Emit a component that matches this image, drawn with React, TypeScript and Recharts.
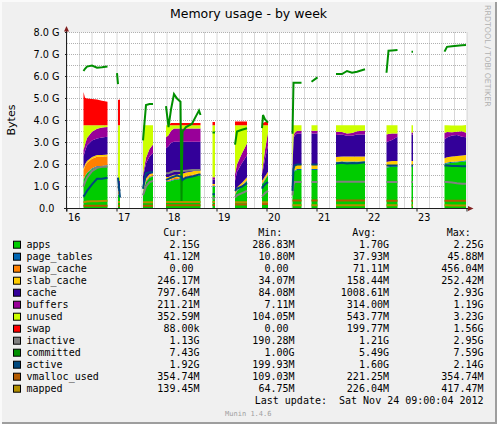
import React from 'react'
import { ComposedChart, Area, Line, XAxis, YAxis, CartesianGrid } from 'recharts'

const W = 497
const H = 424
const PLOT = { left: 67, top: 32.5, width: 400, height: 176 }
const PLOT_BOTTOM = PLOT.top + PLOT.height
const AXIS = '#1f1f1f'
const ARROW = '#801f1f'
const SANS = 'DejaVu Sans'
const MONO = 'DejaVu Sans Mono'

const _ = null

// time in days (November); rows where every value is null are the gaps in the data
const t = [
  16.33, 16.36, 16.4, 16.5, 16.6, 16.7, 16.81, 16.9,
  17.0, 17.02, 17.06, 17.3,
  17.52, 17.58, 17.65, 17.72, 17.85,
  17.98, 18.03, 18.08, 18.14, 18.2, 18.27, 18.29, 18.31, 18.38, 18.5, 18.58, 18.64, 18.67, 18.8,
  18.91, 18.96, 19.2,
  19.36, 19.4, 19.5, 19.6, 19.75,
  19.9, 19.92, 19.96, 20.02, 20.3,
  20.51, 20.53, 20.55, 20.6, 20.69, 20.8,
  20.89, 21.01, 21.2,
  21.38, 21.5, 21.6, 21.7, 21.8, 21.96, 22.2,
  22.39, 22.43, 22.5, 22.61, 22.75,
  22.89, 22.92, 23.2,
  23.55, 23.6, 23.7, 23.8, 23.9, 23.98,
]

// stacked areas, GB
const apps = [
  1.3, 1.45, 1.6, 1.8, 1.9, 1.9, 1.95, _,
  _, 0.6, 0.7, _,
  0.7, 1.2, 1.4, 1.45, _,
  1.2, 1.2, 1.25, 1.3, 1.3, 1.35, 1.35, 1.35, 1.4, 1.45, 1.5, 1.5, 1.5, _,
  1.0, 1.0, _,
  0.6, 0.8, 1.0, 1.25, _,
  1.1, 1.15, 1.3, 1.5, _,
  1.0, 1.6, 1.7, 1.75, 1.75, _,
  1.75, 1.75, _,
  2.08, 2.1, 2.1, 2.1, 2.1, 2.1, _,
  1.85, 1.88, 1.9, 1.9, _,
  1.9, 1.9, _,
  2.0, 2.05, 2.08, 2.1, 2.12, 2.15,
]
const pageTables = [
  0.03, 0.03, 0.03, 0.03, 0.03, 0.03, 0.03, _,
  _, 0.03, 0.03, _,
  0.03, 0.03, 0.03, 0.03, _,
  0.035, 0.035, 0.035, 0.035, 0.035, 0.035, 0.035, 0.035, 0.035, 0.035, 0.035, 0.035, 0.035, _,
  0.035, 0.035, _,
  0.035, 0.035, 0.035, 0.035, _,
  0.035, 0.035, 0.035, 0.035, _,
  0.04, 0.04, 0.04, 0.04, 0.04, _,
  0.04, 0.04, _,
  0.04, 0.04, 0.04, 0.04, 0.04, 0.04, _,
  0.04, 0.04, 0.04, 0.04, _,
  0.04, 0.04, _,
  0.041, 0.041, 0.041, 0.041, 0.041, 0.041,
]
const swapCache = [
  0.4, 0.45, 0.45, 0.43, 0.42, 0.42, 0.4, _,
  _, 0.1, 0.1, _,
  0.05, 0.05, 0.05, 0.05, _,
  0.05, 0.05, 0.05, 0.05, 0.05, 0.05, 0.05, 0.05, 0.05, 0.05, 0.05, 0.05, 0.05, _,
  0.03, 0.03, _,
  0.03, 0.03, 0.03, 0.03, _,
  0.03, 0.03, 0.03, 0.03, _,
  0, 0, 0, 0, 0, _,
  0, 0, _,
  0, 0, 0, 0, 0, 0, _,
  0, 0, 0, 0, _,
  0, 0, _,
  0, 0, 0, 0, 0, 0,
]
const slabCache = [
  0.08, 0.08, 0.08, 0.08, 0.08, 0.08, 0.08, _,
  _, 0.05, 0.05, _,
  0.08, 0.08, 0.08, 0.08, _,
  0.15, 0.15, 0.15, 0.15, 0.15, 0.15, 0.15, 0.15, 0.15, 0.15, 0.15, 0.15, 0.15, _,
  0.05, 0.05, _,
  0.1, 0.1, 0.1, 0.1, _,
  0.1, 0.1, 0.1, 0.1, _,
  0.2, 0.22, 0.22, 0.22, 0.22, _,
  0.22, 0.22, _,
  0.22, 0.22, 0.22, 0.22, 0.22, 0.22, _,
  0.22, 0.22, 0.22, 0.22, _,
  0.22, 0.22, _,
  0.24, 0.24, 0.245, 0.245, 0.246, 0.246,
]
const cache = [
  0.55, 0.6, 0.7, 0.75, 0.75, 0.8, 0.8, _,
  _, 0.3, 0.3, _,
  0.6, 0.7, 0.8, 0.9, _,
  1.3, 1.4, 1.5, 1.5, 1.5, 1.45, 1.45, 1.45, 1.4, 1.35, 1.3, 1.3, 1.3, _,
  0.2, 0.2, _,
  0.5, 0.7, 0.9, 1.0, _,
  0.3, 0.45, 0.8, 1.2, _,
  0.5, 1.3, 1.35, 1.4, 1.4, _,
  1.4, 1.4, _,
  1.0, 1.0, 0.95, 0.95, 1.0, 1.0, _,
  0.9, 0.92, 0.95, 1.1, _,
  1.2, 1.2, _,
  0.85, 0.9, 0.95, 0.95, 0.85, 0.8,
]
const buffers = [
  0.3, 0.3, 0.35, 0.4, 0.45, 0.45, 0.45, _,
  _, 0.1, 0.1, _,
  0.1, 0.25, 0.35, 0.4, _,
  0.5, 0.5, 0.55, 0.6, 0.6, 0.6, 0.6, 0.6, 0.6, 0.6, 0.6, 0.6, 0.6, _,
  0.1, 0.1, _,
  0.3, 0.35, 0.45, 0.55, _,
  0.1, 0.2, 0.4, 0.6, _,
  0.1, 0.12, 0.12, 0.12, 0.12, _,
  0.12, 0.12, _,
  0.15, 0.12, 0.1, 0.12, 0.15, 0.18, _,
  0.35, 0.33, 0.3, 0.15, _,
  0.1, 0.1, _,
  0.3, 0.25, 0.15, 0.15, 0.25, 0.21,
]
const unused = [
  1.12, 0.87, 0.57, 0.29, 0.15, 0.1, 0.07, _,
  _, 2.6, 2.5, _,
  2.22, 1.47, 1.07, 0.87, _,
  0.55, 0.45, 0.25, 0.15, 0.15, 0.15, 0.15, 0.15, 0.15, 0.15, 0.15, 0.15, 0.15, _,
  2.37, 2.37, _,
  2.22, 1.77, 1.27, 0.82, _,
  2.12, 1.82, 1.12, 0.32, _,
  1.94, 0.5, 0.35, 0.25, 0.25, _,
  0.25, 0.25, _,
  0.29, 0.3, 0.37, 0.35, 0.27, 0.24, _,
  0.42, 0.39, 0.37, 0.37, _,
  0.32, 0.32, _,
  0.35, 0.3, 0.31, 0.29, 0.27, 0.353,
]
const swap = [
  1.52, 1.25, 1.22, 1.2, 1.17, 1.12, 1.07, _,
  _, 1.15, 1.18, _,
  0, 0, 0, 0, _,
  0, 0, 0.1, 0.1, 0.1, 0.1, 0.1, 0.1, 0.1, 0.1, 0.1, 0.1, 0.1, _,
  0.15, 0.15, _,
  0.17, 0.17, 0.17, 0.17, _,
  0.05, 0.1, 0.15, 0.15, _,
  0, 0, 0, 0, 0, _,
  0, 0, _,
  0, 0, 0, 0, 0, 0, _,
  0, 0, 0, 0, _,
  0, 0, _,
  0, 0, 0, 0, 0, 0,
]

// lines, GB
const inactive = [
  1.0, 1.2, 1.4, 1.7, 1.85, 1.9, 1.9, _,
  _, 1.0, 0.8, _,
  0.6, 1.0, 1.2, 1.25, _,
  1.6, 1.6, 1.65, 1.7, 1.7, 1.7, 1.7, 1.7, 1.72, 1.75, 1.75, 1.75, 1.75, _,
  0.45, 0.45, _,
  0.5, 0.6, 0.7, 0.8, _,
  0.55, 0.6, 0.7, 0.8, _,
  0.6, 1.1, 1.2, 1.2, 1.2, _,
  1.2, 1.2, _,
  1.22, 1.22, 1.22, 1.22, 1.22, 1.22, _,
  1.2, 1.2, 1.2, 1.2, _,
  1.2, 1.2, _,
  1.2, 1.2, 1.18, 1.15, 1.13, 1.13,
]
const committed = [
  6.25, 6.35, 6.45, 6.5, 6.4, 6.42, 6.45, _,
  6.15, 5.65, _, _,
  3.1, 4.7, 4.75, 4.75, _,
  4.65, 3.7, 4.5, 5.2, 5.0, 4.85, 0.3, 3.5, 3.7, 3.85, 4.2, 4.45, 4.25, _,
  3.45, 3.45, _,
  2.9, 3.5, 3.58, 3.65, _,
  3.65, 4.25, 4.05, 3.9, _,
  3.4, 5.72, 5.72, 5.72, 5.72, _,
  5.76, 5.96, _,
  6.11, 6.11, 6.25, 6.17, 6.22, 6.33, _,
  6.17, 7.17, 7.18, 7.2, _,
  7.13, 7.13, _,
  7.13, 7.35, 7.38, 7.4, 7.42, 7.43,
]
const active = [
  0.54, 0.65, 0.8, 1.1, 1.35, 1.35, 1.4, _,
  _, 1.4, 0.5, _,
  0.9, 1.6, 1.65, 1.65, _,
  1.3, 1.35, 1.4, 1.45, 1.5, 1.45, 1.45, 1.3, 1.4, 1.45, 1.5, 1.55, 1.55, _,
  0.65, 0.65, _,
  0.8, 0.9, 1.0, 1.15, _,
  0.9, 1.0, 1.1, 1.2, _,
  0.8, 1.8, 1.95, 2.0, 2.0, _,
  2.0, 2.0, _,
  2.05, 2.08, 2.05, 2.07, 2.06, 2.1, _,
  1.95, 1.95, 1.95, 1.95, _,
  1.95, 1.95, _,
  1.95, 1.95, 1.93, 1.93, 1.92, 1.92,
]
const vmallocUsed = [
  0.12, 0.12, 0.12, 0.12, 0.12, 0.12, 0.12, _,
  _, 0.12, 0.12, _,
  0.13, 0.13, 0.13, 0.13, _,
  0.15, 0.15, 0.15, 0.15, 0.15, 0.15, 0.15, 0.15, 0.15, 0.15, 0.15, 0.15, 0.15, _,
  0.16, 0.16, _,
  0.18, 0.18, 0.18, 0.18, _,
  0.2, 0.2, 0.2, 0.2, _,
  0.36, 0.36, 0.36, 0.36, 0.36, _,
  0.36, 0.36, _,
  0.36, 0.36, 0.36, 0.36, 0.36, 0.36, _,
  0.355, 0.355, 0.355, 0.355, _,
  0.355, 0.355, _,
  0.35, 0.35, 0.355, 0.355, 0.355, 0.355,
]
const mapped = [
  0.3, 0.3, 0.32, 0.33, 0.33, 0.34, 0.35, _,
  _, 0.3, 0.3, _,
  0.28, 0.28, 0.28, 0.28, _,
  0.3, 0.3, 0.3, 0.3, 0.3, 0.3, 0.3, 0.3, 0.3, 0.3, 0.3, 0.3, 0.3, _,
  0.3, 0.3, _,
  0.28, 0.28, 0.28, 0.28, _,
  0.28, 0.28, 0.28, 0.28, _,
  0.15, 0.15, 0.15, 0.15, 0.15, _,
  0.15, 0.15, _,
  0.15, 0.15, 0.15, 0.15, 0.15, 0.15, _,
  0.15, 0.15, 0.15, 0.15, _,
  0.15, 0.15, _,
  0.15, 0.15, 0.14, 0.14, 0.14, 0.14,
]

const xTicks = [
  16, 16.25, 16.5, 16.75, 17, 17.25, 17.5, 17.75, 18, 18.25, 18.5, 18.75,
  19, 19.25, 19.5, 19.75, 20, 20.25, 20.5, 20.75, 21, 21.25, 21.5, 21.75,
  22, 22.25, 22.5, 22.75, 23, 23.25, 23.5, 23.75, 24,
]
const yTicks = [0, 0.5, 1, 1.5, 2, 2.5, 3, 3.5, 4, 4.5, 5, 5.5, 6, 6.5, 7, 7.5, 8]

const names = [
  'apps', 'page_tables', 'swap_cache', 'slab_cache', 'cache', 'buffers', 'unused',
  'swap', 'inactive', 'committed', 'active', 'vmalloc_used', 'mapped',
]
const colors = [
  '#00CC00', '#0066B3', '#FF8000', '#FFCC00', '#330099', '#990099', '#CCFF00',
  '#FF0000', '#808080', '#008F00', '#00487D', '#B35A00', '#B38F00',
]
const curVals = ['2.15G', '41.12M', '0.00', '246.17M', '797.64M', '211.21M', '352.59M', '88.00k', '1.13G', '7.43G', '1.92G', '354.74M', '139.45M']
const minVals = ['286.83M', '10.80M', '0.00', '34.07M', '84.08M', '7.11M', '104.05M', '0.00', '190.28M', '1.00G', '199.93M', '109.03M', '64.75M']
const avgVals = ['1.70G', '37.93M', '71.11M', '158.44M', '1008.61M', '314.00M', '543.77M', '199.77M', '1.21G', '5.49G', '1.60G', '221.25M', '226.04M']
const maxVals = ['2.25G', '45.88M', '456.04M', '252.42M', '2.93G', '1.19G', '3.23G', '1.56G', '2.95G', '7.59G', '2.14G', '354.74M', '417.47M']

const columns = [
  { head: 'Cur:', headX: 163.3, right: 199.5, vals: curVals },
  { head: 'Min:', headX: 258.3, right: 294.5, vals: minVals },
  { head: 'Avg:', headX: 352.3, right: 389, vals: avgVals },
  { head: 'Max:', headX: 446.7, right: 483.5, vals: maxVals },
]

const series = [apps, pageTables, swapCache, slabCache, cache, buffers, unused, swap, inactive, committed, active, vmallocUsed, mapped]
const rows = t.map((time, i) => {
  const row: Record<string, number | null> = { t: time }
  names.forEach((n, k) => { row[n] = series[k][i] })
  return row
})
const stackCount = 8

function XTick(props: any) {
  const { x, payload } = props
  const v = payload.value
  if (!Number.isInteger(v)) return <g />
  return (
    <g>
      <line x1={x} x2={x} y1={PLOT_BOTTOM} y2={PLOT_BOTTOM + 3} stroke={AXIS} />
      {v < 24 && (
        <text x={x + 1} y={PLOT_BOTTOM + 12.2} fontSize={9.7} fontFamily={SANS} fill="#000">{v}</text>
      )}
    </g>
  )
}

function YTick(props: any) {
  const { y, payload } = props
  const v = payload.value
  if (!Number.isInteger(v)) return <g />
  const label = v === 0 ? '0.0' : `${v.toFixed(1)} G`
  return (
    <g>
      <line x1={PLOT.left - 2} x2={PLOT.left} y1={y} y2={y} stroke={AXIS} />
      <text x={v === 0 ? 54.5 : 59.5} y={y} dy="0.36em" textAnchor="end" fontSize={9.7} fontFamily={SANS} fill="#000">{label}</text>
    </g>
  )
}

const pad = (s: string) => (/[0-9]$/.test(s) ? s + '\u00a0' : s)

export default function App() {
  return (
    <div
      style={{
        position: 'absolute', left: 0, top: 0, width: W, height: H, background: '#f0f0f0',
        boxShadow: 'inset 2px 2px 0 #fafafa, inset -2px -2px 0 #9e9e9e',
      }}
    >
      <ComposedChart
        width={W}
        height={H}
        data={rows}
        margin={{ top: PLOT.top, right: W - PLOT.left - PLOT.width, bottom: H - PLOT_BOTTOM - 15, left: 0 }}
        style={{ position: 'absolute', left: 0, top: 0 }}
      >
        <CartesianGrid fill="#fff" stroke="#b0b0b0" strokeDasharray="1 1" />
        <XAxis
          dataKey="t" type="number" domain={[16, 24]} ticks={xTicks} interval={0}
          axisLine={false} tickLine={false} height={15} tick={XTick} allowDataOverflow
        />
        <YAxis
          type="number" domain={[0, 8]} ticks={yTicks} interval={0} width={PLOT.left}
          axisLine={false} tickLine={false} tick={YTick} allowDataOverflow
        />
        {names.slice(0, stackCount).map((n, i) => (
          <Area
            key={n} type="linear" dataKey={n} stackId="mem" stroke="none"
            fill={colors[i]} fillOpacity={1} isAnimationActive={false} activeDot={false}
          />
        ))}
        {names.slice(stackCount).map((n, i) => (
          <Line
            key={n} type="linear" dataKey={n} stroke={colors[stackCount + i]} strokeWidth={2}
            dot={false} activeDot={false} isAnimationActive={false}
          />
        ))}
      </ComposedChart>

      <svg width={W} height={H} style={{ position: 'absolute', left: 0, top: 0, pointerEvents: 'none' }}>
        <text x={248.5} y={18.3} textAnchor="middle" fontSize={12.5} fontFamily={SANS} fill="#000">
          Memory usage - by week
        </text>
        <text transform="translate(14.5,120) rotate(-90)" textAnchor="middle" fontSize={11} fontFamily={SANS} fill="#000">
          Bytes
        </text>
        <text transform="translate(485,5) rotate(90)" fontSize={7.9} fontFamily={SANS} fill="#b0b0b0">
          RRDTOOL / TOBI OETIKER
        </text>

        <line x1={66.5} y1={PLOT_BOTTOM + 3} x2={66.5} y2={30} stroke={AXIS} />
        <polygon points="66.5,26 64,31.5 69,31.5" fill={ARROW} />
        <line x1={64} y1={PLOT_BOTTOM} x2={469} y2={PLOT_BOTTOM} stroke={AXIS} />
        <polygon points="473.5,208.5 468,206 468,211" fill={ARROW} />

        {columns.map((c) => (
          <text key={c.head} x={c.headX} y={235.9} fontSize={10} fontFamily={MONO} fill="#000">{c.head}</text>
        ))}
        {names.map((n, i) => {
          const cy = 244.7 + 12 * i
          return (
            <g key={n}>
              <rect x={13.5} y={cy - 3.5} width={7} height={7} fill={colors[i]} stroke="#000" strokeWidth={1} />
              <text x={26.5} y={cy + 3.6} fontSize={10} fontFamily={MONO} fill="#000">{n}</text>
              {columns.map((c) => (
                <text key={c.head} x={c.right} y={cy + 3.6} textAnchor="end" fontSize={10} fontFamily={MONO} fill="#000">
                  {pad(c.vals[i])}
                </text>
              ))}
            </g>
          )
        })}
        <text x={483.5} y={403.9} textAnchor="end" fontSize={10} fontFamily={MONO} fill="#000" style={{ whiteSpace: 'pre' }}>
          {'Last update:\u00a0 Sat Nov 24 09:00:04 2012'}
        </text>
        <text x={248.3} y={415.8} textAnchor="middle" fontSize={7} fontFamily={MONO} fill="#a0a0a0">
          Munin 1.4.6
        </text>
      </svg>
    </div>
  )
}
